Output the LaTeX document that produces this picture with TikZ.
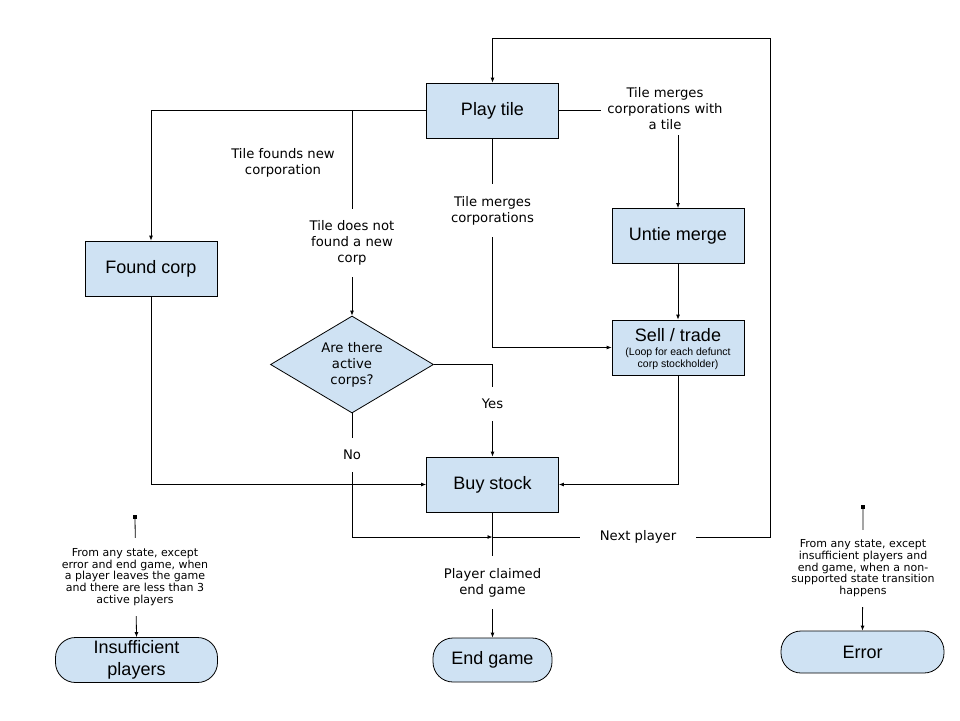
\documentclass[tikz,border=0pt]{standalone}
\usepackage{fontspec}
\setmainfont{Liberation Sans}
\newfontfamily\lblfont{DejaVu Sans}
\usetikzlibrary{arrows.meta,shapes.geometric}
\definecolor{boxblue}{HTML}{CFE2F3}
\begin{document}
\begin{tikzpicture}[x=1pt,y=-1pt,
  box/.style={draw=black, line width=0.8pt, fill=boxblue, minimum width=132pt, minimum height=55pt, inner sep=0pt, font=\fontsize{18}{21}\selectfont, align=center},
  term/.style={draw=black, line width=0.8pt, fill=boxblue, rounded corners=20pt, inner sep=0pt, font=\fontsize{18}{21.7}\selectfont, align=center},
  dec/.style={draw=black, line width=0.8pt, fill=boxblue, diamond, aspect=1.68, inner sep=0pt, minimum width=163pt, minimum height=97pt, font=\lblfont\fontsize{13.2}{16}\selectfont, align=center},
  lbl/.style={font=\lblfont\fontsize{13.2}{16}\selectfont, align=center, fill=white, inner xsep=20pt, inner ysep=12pt},
  note/.style={font=\lblfont\fontsize{11}{11.8}\selectfont, align=center, fill=white, inner xsep=4pt, inner ysep=10pt},
  arr/.style={draw=black, line width=0.8pt, -{Latex[length=5pt,width=4pt]}},
  marker/.style={fill=black, minimum size=3.5pt, inner sep=0pt}
]
\useasboundingbox (0,0) rectangle (960,720);

% nodes
\node[box] (play) at (492.5,110.5) {Play tile};
\node[box] (found) at (151,268.5) {Found corp};
\node[box] (untie) at (678,236) {Untie merge};
\node[box] (sell) at (678,347.5) {};
\node[font=\fontsize{18}{21}\selectfont] (selltitle) at (678,335) {Sell / trade};
\node[font=\fontsize{10.5}{11.7}\selectfont, align=center] (sellsub) at (678,358.5) {(Loop for each defunct\\corp stockholder)};
\node[box] (buy) at (492.5,484.5) {Buy stock};
\node[dec] (dia) at (352,364.5) {Are there\\active\\corps?};
\node[term, minimum width=162pt, minimum height=45pt] (insuf) at (136.5,660) {Insufficient\\players};
\node[term, minimum width=119pt, minimum height=44pt] (endg) at (492.5,660) {End game};
\node[term, minimum width=163pt, minimum height=42pt] (err) at (862.5,652) {Error};

\coordinate (np) at (492.5,537);
\coordinate (loopTR) at (770,38);
\node[marker] (sa) at (135,517) {};
\node[marker] (sb) at (863,507) {};

% connectors
\draw[arr] (np) -| (loopTR) -| (play.north);
\draw[arr] (play.west) -| (found.north);
\draw[arr] (play.west -| dia.north) -- (dia.north);
\draw[arr] (play.east) -| (untie.north);
\draw[arr] (play.south) |- (sell.west);
\draw[arr] (untie.south) -- (sell.north);
\draw[arr] (sell.south) |- (buy.east);
\draw[arr] (found.south) |- (buy.west);
\draw[arr] (dia.east) -| (buy.north);
\draw[arr] (dia.south) |- (np);
\draw[arr] (buy.south) -- (endg.north);
\draw[arr] (sa.center) -- (insuf.north);
\draw[arr] (sb.center) -- (err.north);

% labels
\node[font=\lblfont\fontsize{13.2}{16}\selectfont, align=center] (lfound) at (283,163) {Tile founds new\\corporation};
\node[lbl] (lnotfound) at (352,243) {Tile does not\\found a new\\corp};
\node[lbl, inner sep=6pt] (lmergetile) at (665,108.3) {Tile merges\\corporations with\\a tile};
\node[lbl] (lmerge) at (492.5,210.5) {Tile merges\\corporations};
\node[lbl] (lyes) at (492.5,404) {Yes};
\node[lbl] (lno) at (352,455) {No};
\node[lbl] (lnext) at (638,537) {Next player};
\node[lbl] (lclaim) at (492.5,582.5) {Player claimed\\end game};
\node[note] (nins) at (135,577) {From any state, except\\error and end game, when\\a player leaves the game\\and there are less than 3\\active players};
\node[note] (nerr) at (863,568.3) {From any state, except\\insufficient players and\\end game, when a non-\\supported state transition\\happens};
\end{tikzpicture}
\end{document}
